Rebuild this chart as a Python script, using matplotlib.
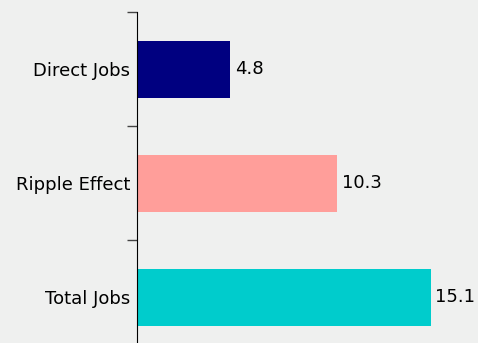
import numpy as np
import matplotlib.pyplot as plt

categories = ['Direct Jobs', 'Ripple Effect', 'Total Jobs']
values = [4.8, 10.3, 15.1]
colors = ['#000080', '#ff9e9a', '#00cccc']

bg = '#eff0ef'
fig = plt.figure(figsize=(4.78, 3.43), dpi=100, facecolor=bg)
# axes runs a little past the bottom edge, so the last category tick is cut off
ax = fig.add_axes([137 / 478, -11 / 343, 341 / 478, 342 / 343])
ax.set_facecolor(bg)

y = np.arange(len(categories))
ax.barh(y, values, height=0.5, color=colors)
for yi, v in zip(y, values):
    ax.text(v + 0.22, yi, f'{v}', va='center', ha='left', fontsize=13)

ax.set_ylim(2.5, -0.5)
ax.set_xlim(0, 17.53)

# boundary ticks between categories, labels sit at the centres
ax.set_yticks(np.arange(-0.5, 3, 1))
ax.set_yticklabels([])
ax.set_yticks(y, minor=True)
ax.set_yticklabels(categories, minor=True, fontsize=13)
ax.tick_params(axis='y', which='major', length=7, width=1, color='#444444')
ax.tick_params(axis='y', which='minor', length=0, pad=5)
ax.set_xticks([])

for side in ['top', 'right', 'bottom']:
    ax.spines[side].set_visible(False)
ax.spines['left'].set_color('black')

fig.savefig('out.png', dpi=100, facecolor=bg)
